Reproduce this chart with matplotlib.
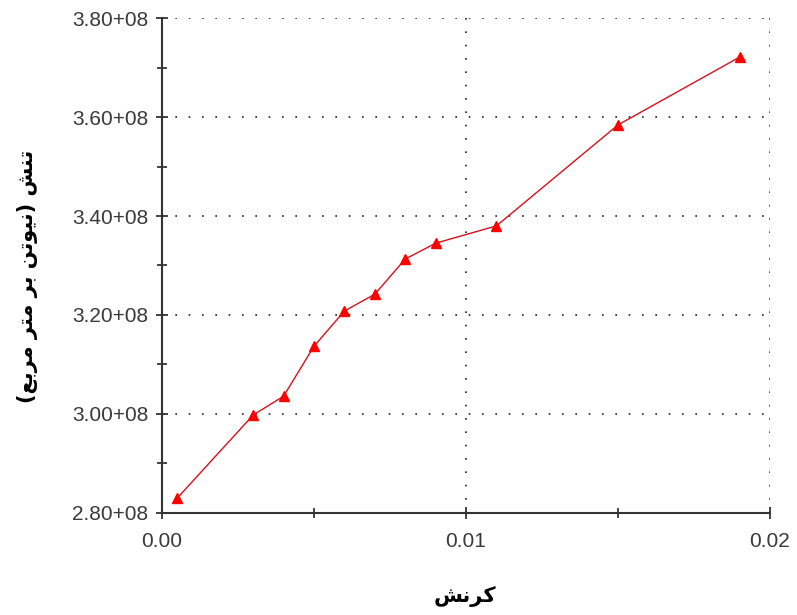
import matplotlib
matplotlib.use("Agg")
import matplotlib.pyplot as plt
from matplotlib.ticker import MultipleLocator, FuncFormatter

# strain / stress samples
strain = [0.0005, 0.003, 0.004, 0.005, 0.006, 0.007, 0.008, 0.009, 0.011, 0.015, 0.019]
stress = [2.83e8, 2.998e8, 3.036e8, 3.137e8, 3.208e8, 3.242e8, 3.313e8, 3.345e8, 3.38e8, 3.584e8, 3.721e8]

# Persian labels, pre-shaped with presentation forms in visual order
xlabel_text = "\uFEB6\uFEE7\uFEAE\uFB90"  # کرنش
ylabel_text = ("(" + "\uFECA\uFE91\uFEAE\uFEE3" + " " + "\uFEAE\uFE98\uFEE3" + " "
               + "\uFEAE\uFE91" + " " + "\uFEE6\uFE97\uFEEE\uFEF4\uFEE7" + ")" + " "
               + "\uFEB6\uFEE8\uFE97")  # تنش (نیوتن بر متر مربع)

fig = plt.figure(figsize=(7.97, 6.15), dpi=100)
ax = fig.add_axes([0.2033, 0.1659, 0.7628, 0.8048])

ax.plot(strain, stress, color="#d8101c", lw=1.0, marker="^", ms=7.5,
        mfc="#ff0000", mec="#ff0000", clip_on=False, zorder=3)

ax.set_xlim(0, 0.02)
ax.set_ylim(2.8e8, 3.8e8)
ax.xaxis.set_major_locator(MultipleLocator(0.01))
ax.xaxis.set_minor_locator(MultipleLocator(0.005))
ax.yaxis.set_major_locator(MultipleLocator(0.2e8))
ax.yaxis.set_minor_locator(MultipleLocator(0.1e8))
ax.xaxis.set_major_formatter(FuncFormatter(lambda v, p: f"{v:.2f}"))
ax.yaxis.set_major_formatter(FuncFormatter(lambda v, p: f"{v/1e8:.2f}+08"))

for s in ["top", "right"]:
    ax.spines[s].set_visible(False)
for s in ["left", "bottom"]:
    ax.spines[s].set_linewidth(1.5)
    ax.spines[s].set_color("#333333")

ax.tick_params(which="both", direction="inout", color="#222222", width=1.2)
ax.tick_params(which="major", length=8)
ax.tick_params(which="minor", length=7)
ax.tick_params(axis="both", labelsize=15, labelcolor="#3a3a3a", pad=6)
ax.tick_params(axis="x", pad=10)
for lab in ax.get_xticklabels() + ax.get_yticklabels():
    lab.set_family(["Liberation Sans", "DejaVu Sans"])

ax.grid(True, which="major", color="#222222", linestyle=(0, (1, 7)), lw=1.2)
ax.set_axisbelow(True)

fig.text(0.5835, 0.03, xlabel_text, ha="center", va="center",
         fontsize=15, fontweight="bold", family="DejaVu Sans")
fig.text(0.034, 0.551, ylabel_text, ha="center", va="center", rotation=90,
         fontsize=15, fontweight="bold", family="DejaVu Sans")

fig.savefig("out.png", dpi=100, facecolor="white")
